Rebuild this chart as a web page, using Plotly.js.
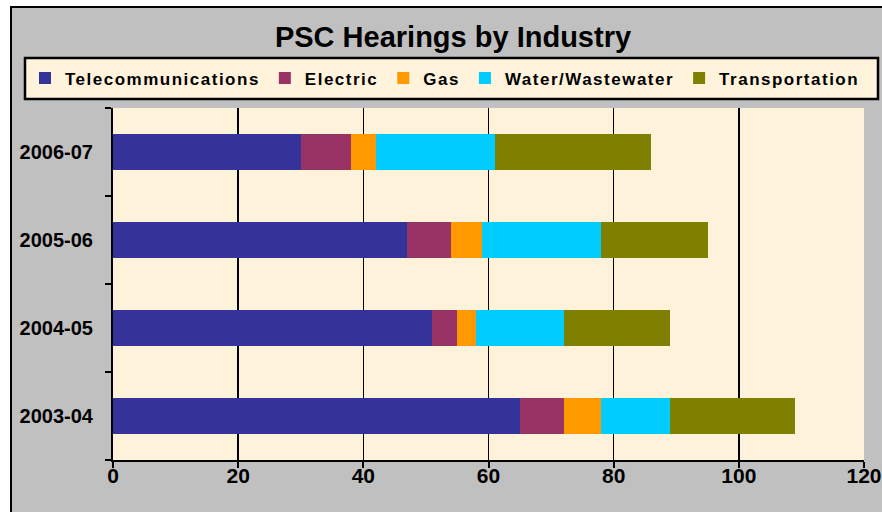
<!DOCTYPE html>
<html>
<head>
<meta charset="utf-8">
<script src="https://cdn.plot.ly/plotly-3.0.1.min.js"></script>
<style>
  html, body { margin: 0; padding: 0; background: #ffffff; }
  #chart { width: 882px; height: 512px; }
  .legendtext { letter-spacing: 1.5px; }
</style>
</head>
<body>
<div id="chart"></div>
<script>
// ---- data ----
const years = ['2003-04', '2004-05', '2005-06', '2006-07'];
const seriesNames = ['Telecommunications', 'Electric', 'Gas', 'Water/Wastewater', 'Transportation'];
const telecom = [65, 51, 47, 30];
const electric = [7, 4, 7, 8];
const gas = [6, 3, 5, 4];
const water = [11, 14, 19, 19];
const transport = [20, 17, 17, 25];
const xTicks = [0, 20, 40, 60, 80, 100, 120];

const seriesValues = [telecom, electric, gas, water, transport];
const seriesColors = ['#333399', '#993366', '#FF9900', '#00CCFF', '#808000'];

const traces = seriesNames.map((name, i) => ({
  type: 'bar',
  orientation: 'h',
  name: name,
  y: years,
  x: seriesValues[i],
  marker: { color: seriesColors[i], line: { width: 0 } },
  hoverinfo: 'x+name'
}));

const L = 113, R = 864, T = 108, B = 460, W = 882, H = 512;
const px = v => (v - L) / (R - L);
const py = v => (B - v) / (B - T);
const FONT = 'Liberation Sans, Arial, sans-serif';

const layout = {
  width: W,
  height: H,
  margin: { l: L, r: W - R, t: T, b: H - B, pad: 0 },
  paper_bgcolor: 'rgba(0,0,0,0)',
  plot_bgcolor: '#FFF2DA',
  barmode: 'stack',
  bargap: 0.59,
  showlegend: true,
  font: { family: FONT, color: '#000000' },
  title: {
    text: '<b>PSC Hearings by Industry</b>',
    font: { family: FONT, size: 29, color: '#000000' },
    x: 453 / W, xref: 'container', xanchor: 'center',
    y: 1 - 37 / H, yref: 'container', yanchor: 'middle'
  },
  legend: {
    orientation: 'h',
    x: px(25), xanchor: 'left',
    y: py(78.5), yanchor: 'middle',
    bgcolor: 'rgba(0,0,0,0)',
    borderwidth: 0,
    traceorder: 'normal',
    font: { family: FONT, size: 17, color: '#000000', weight: 'bold' },
    itemclick: false, itemdoubleclick: false
  },
  xaxis: {
    range: [0, 120],
    tickmode: 'array',
    tickvals: xTicks,
    ticktext: xTicks.map(String),
    ticks: 'outside',
    ticklen: 6,
    tickwidth: 2,
    tickcolor: '#000000',
    showline: true,
    linecolor: '#000000',
    linewidth: 2,
    showgrid: true,
    gridcolor: '#000000',
    gridwidth: 1.5,
    zeroline: false,
    ticklabelstandoff: -10,
    tickfont: { family: FONT, size: 21, color: '#000000', weight: 'bold' },
    fixedrange: true
  },
  yaxis: {
    type: 'category',
    categoryorder: 'array',
    categoryarray: years,
    tickson: 'boundaries',
    ticks: 'outside',
    ticklen: 6,
    tickwidth: 2,
    tickcolor: '#000000',
    showline: true,
    linecolor: '#000000',
    linewidth: 2,
    showgrid: false,
    zeroline: false,
    ticklabelstandoff: 14,
    tickfont: { family: FONT, size: 20, color: '#000000', weight: 'bold' },
    fixedrange: true
  },
  shapes: [
    { type: 'rect', layer: 'below', xref: 'paper', yref: 'paper',
      x0: px(11), x1: px(900), y0: py(7), y1: py(530),
      fillcolor: '#C0C0C0', line: { color: '#000000', width: 2 } },
    { type: 'rect', layer: 'below', xref: 'paper', yref: 'paper',
      x0: 0, x1: 1, y0: 0, y1: 1,
      fillcolor: '#FFF2DA', line: { width: 0 } },
    { type: 'rect', layer: 'below', xref: 'paper', yref: 'paper',
      x0: px(25), x1: px(878), y0: py(99), y1: py(58),
      fillcolor: '#FFF3DC', line: { color: '#000000', width: 2.5 } }
  ]
};

Plotly.newPlot('chart', traces, layout, { displayModeBar: false, staticPlot: true });
</script>
</body>
</html>
